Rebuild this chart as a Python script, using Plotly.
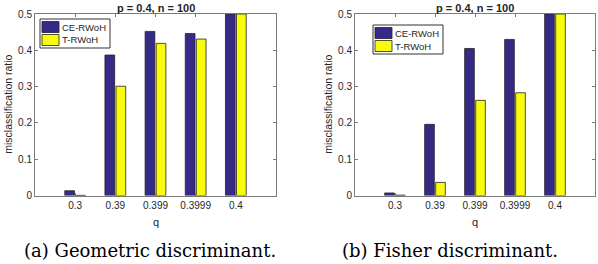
import plotly.graph_objects as go

q_labels = ["0.3", "0.39", "0.399", "0.3999", "0.4"]
geo_ce = [0.013, 0.387, 0.452, 0.446, 0.5]
geo_t = [0.0005, 0.301, 0.419, 0.431, 0.5]
fis_ce = [0.007, 0.196, 0.405, 0.430, 0.5]
fis_t = [0.001, 0.036, 0.262, 0.283, 0.5]
series_names = ["CE-RWoH", "T-RWoH"]
panel_title = "p = 0.4, n = 100"
captions = ["(a) Geometric discriminant.", "(b) Fisher discriminant."]
y_ticks = [0, 0.1, 0.2, 0.3, 0.4, 0.5]

C_CE = "#352a87"
C_T = "#f9fb0e"
AX = "#7a7a7a"
TXT = "#262626"
FONT = "Liberation Sans, Arial, sans-serif"
colors = [C_CE, C_T]

W, H = 598, 264
xpos = list(range(1, len(q_labels) + 1))

def px(v):
    return v / W

def py(v):
    return 1 - v / H

fig = go.Figure()
panels = [
    (geo_ce, geo_t, "x", "y", (35, 276), (40, 19)),
    (fis_ce, fis_t, "x2", "y2", (355, 595), (373, 25)),
]
ydom = (py(195.5), py(14))

for ce, t, xa, ya, dom, lgpos in panels:
    for vals, name, col in zip((ce, t), series_names, colors):
        fig.add_trace(go.Bar(
            x=xpos, y=vals, name=name, xaxis=xa, yaxis=ya, showlegend=False,
            marker=dict(color=col, line=dict(color="#222222", width=0.8)),
            hoverinfo="skip",
        ))

axis_common = dict(
    showline=True, linecolor=AX, linewidth=1, mirror="ticks",
    ticks="inside", ticklen=3, tickcolor=AX, showgrid=False, zeroline=False,
    tickfont=dict(family=FONT, size=10, color=TXT), automargin=False,
)

layout = dict(
    width=W, height=H, margin=dict(l=0, r=0, t=0, b=0),
    paper_bgcolor="white", plot_bgcolor="white",
    barmode="group", bargap=0.45, bargroupgap=0.12,
    showlegend=False,
    font=dict(family=FONT, color=TXT),
)

for i, (ce, t, xa, ya, dom, lgpos) in enumerate(panels):
    xk = "xaxis" if i == 0 else "xaxis2"
    yk = "yaxis" if i == 0 else "yaxis2"
    layout[xk] = dict(
        axis_common, domain=[px(dom[0]), px(dom[1])], range=[0, 6],
        tickmode="array", tickvals=xpos, ticktext=q_labels, anchor=ya,
    )
    layout[yk] = dict(
        axis_common, domain=list(ydom), range=[0, 0.5],
        tickmode="array", tickvals=y_ticks, ticktext=[f"{v:g}" for v in y_ticks],
        anchor=xa,
    )

fig.update_layout(**layout)

for i, (ce, t, xa, ya, dom, lgpos) in enumerate(panels):
    cx = px((dom[0] + dom[1]) / 2)
    fig.add_annotation(
        text=f"<b>{panel_title}</b>", x=cx, y=py(7.5), xref="paper", yref="paper",
        showarrow=False, font=dict(family=FONT, size=11, color=TXT),
        xanchor="center", yanchor="middle",
    )
    fig.add_annotation(
        text="q", x=cx, y=py(222), xref="paper", yref="paper",
        showarrow=False, font=dict(family=FONT, size=11, color=TXT),
        xanchor="center", yanchor="middle",
    )
    fig.add_annotation(
        text="misclassification ratio", x=px(dom[0] - 27), y=(ydom[0] + ydom[1]) / 2,
        xref="paper", yref="paper", showarrow=False, textangle=-90,
        font=dict(family=FONT, size=10.5, color=TXT),
        xanchor="center", yanchor="middle",
    )
    fig.add_annotation(
        text=captions[i], x=px(150 if i == 0 else 450), y=py(250),
        xref="paper", yref="paper", showarrow=False,
        font=dict(family="DejaVu Serif, serif", size=18, color="black"),
        xanchor="center", yanchor="middle",
    )
    lx, ly = lgpos
    fig.add_shape(type="rect", xref="paper", yref="paper",
                  x0=px(lx), x1=px(lx + 70), y0=py(ly + 29), y1=py(ly),
                  line=dict(color="#333333", width=1), fillcolor="white")
    for k, (name, col) in enumerate(zip(series_names, colors)):
        cy = ly + 8 + k * 13
        fig.add_shape(type="rect", xref="paper", yref="paper",
                      x0=px(lx + 2), x1=px(lx + 19), y0=py(cy + 5.5), y1=py(cy - 5.5),
                      line=dict(color="#222222", width=0.8), fillcolor=col)
        fig.add_annotation(
            text=name, x=px(lx + 20), y=py(cy), xref="paper", yref="paper",
            showarrow=False, font=dict(family=FONT, size=9.5, color=TXT),
            xanchor="left", yanchor="middle",
        )

fig.write_html(
    "out.html",
    config={"displayModeBar": False, "staticPlot": True},
    post_script="document.body.style.margin='0';document.body.style.overflow='hidden';",
)
